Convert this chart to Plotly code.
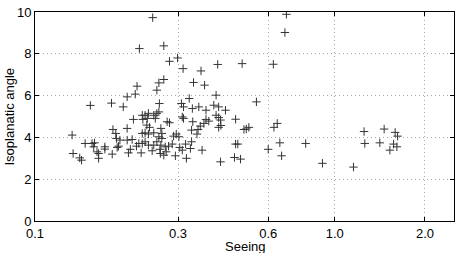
import plotly.graph_objects as go

# Seeing (x) values
seeing = [
    0.153, 0.180, 0.197, 0.203, 0.216, 0.219, 0.223,
    0.133, 0.134, 0.141, 0.143, 0.147, 0.155, 0.157, 0.158, 0.161, 0.163, 0.163,
    0.171, 0.171, 0.181, 0.182, 0.186, 0.187, 0.190, 0.188, 0.192, 0.203, 0.203,
    0.205, 0.208, 0.211, 0.213, 0.218, 0.222,
    0.247, 0.269, 0.281, 0.299, 0.312, 0.269, 0.259, 0.255, 0.260, 0.308, 0.313,
    0.228, 0.233, 0.239, 0.249, 0.255, 0.229, 0.237, 0.252, 0.259, 0.236, 0.241,
    0.276, 0.281, 0.310, 0.313, 0.228, 0.233, 0.239, 0.249, 0.263, 0.265, 0.259,
    0.290, 0.296, 0.302, 0.228, 0.233, 0.239, 0.249, 0.255, 0.263, 0.265, 0.272,
    0.279, 0.287, 0.304, 0.226, 0.246, 0.261, 0.262, 0.269, 0.274, 0.294, 0.320,
    0.310, 0.318,
    0.407, 0.358, 0.338, 0.368, 0.327, 0.402, 0.335, 0.352, 0.372, 0.395, 0.410,
    0.432, 0.336, 0.372, 0.380, 0.402, 0.410, 0.416, 0.356, 0.366, 0.333, 0.350,
    0.347, 0.410, 0.417, 0.333, 0.330, 0.361, 0.416,
    0.491, 0.624, 0.548, 0.467, 0.498, 0.507, 0.517, 0.627, 0.643, 0.467, 0.475,
    0.463, 0.485, 0.600, 0.656, 0.665,
    0.690, 0.682, 0.800, 0.910, 1.155, 1.253, 1.260, 1.414, 1.462, 1.528, 1.572,
    1.591, 1.612, 1.621,
]

# Isoplanatic angle (y) values
iso_angle = [
    5.53, 5.64, 5.46, 5.94, 6.07, 6.45, 8.25,
    4.11, 3.23, 3.02, 2.91, 3.71, 3.71, 3.55, 3.74, 3.31, 3.23, 3.00,
    3.55, 3.44, 3.20, 4.38, 4.19, 3.95, 3.58, 3.52, 3.87, 4.43, 3.87,
    3.26, 3.43, 3.90, 4.86, 3.58, 3.71,
    9.73, 8.38, 7.64, 7.80, 7.29, 6.77, 6.61, 6.26, 5.62, 5.62, 5.46,
    5.06, 5.06, 5.15, 5.06, 5.15, 4.86, 4.91, 4.91, 5.22, 4.59, 4.48,
    4.75, 4.70, 4.98, 4.91, 4.19, 4.22, 4.16, 4.22, 4.43, 4.19, 4.03,
    4.06, 4.16, 4.03, 3.71, 3.79, 3.63, 3.63, 3.79, 3.63, 3.95, 3.55,
    3.58, 3.68, 3.52, 3.26, 3.36, 3.43, 3.23, 3.15, 3.31, 3.12, 3.00,
    3.39, 3.68,
    7.49, 7.18, 6.63, 6.50, 5.86, 6.02, 5.38, 5.46, 5.30, 5.54, 5.46,
    5.30, 4.75, 4.86, 4.78, 5.06, 4.95, 4.83, 4.54, 4.67, 4.35, 4.38,
    4.16, 4.48, 4.57, 3.79, 3.47, 3.39, 2.83,
    7.53, 7.50, 5.70, 4.87, 4.38, 4.40, 4.48, 4.48, 4.67, 3.68, 3.68,
    3.04, 2.96, 3.43, 3.74, 3.12,
    9.89, 9.02, 3.71, 2.76, 2.58, 4.28, 3.71, 3.74, 4.40, 3.39, 3.68,
    4.24, 3.55, 4.06,
]

x_ticks = [0.1, 0.3, 0.6, 1.0, 2.0]
x_ticklabels = ["0.1", "0.3", "0.6", "1.0", "2.0"]
y_ticks = [0, 2, 4, 6, 8, 10]

fig = go.Figure()
fig.add_trace(go.Scatter(
    x=seeing, y=iso_angle, mode="markers",
    marker=dict(symbol="cross-thin", size=6,
                line=dict(width=1, color="#333333")),
    showlegend=False,
))

font = dict(family="Liberation Sans, Arial, sans-serif", size=13, color="black")
fig.update_layout(
    width=458, height=253,
    margin=dict(l=35, r=4, t=12, b=32),
    paper_bgcolor="white", plot_bgcolor="white",
    font=font,
    annotations=[
        dict(text="Seeing", xref="paper", yref="paper", x=0.5, y=0,
             yshift=-25, xanchor="center", yanchor="middle",
             showarrow=False, font=font),
        dict(text="Isoplanatic angle", xref="paper", yref="paper", x=0, y=0.5,
             xshift=-26, textangle=-90, xanchor="center", yanchor="middle",
             showarrow=False, font=font),
    ],
)
fig.update_xaxes(
    type="log", range=[-1, 0.398], automargin=False,
    tickvals=x_ticks, ticktext=x_ticklabels,
    showgrid=True, gridcolor="#a8a8a8", griddash="1px,3px", gridwidth=1,
    ticks="inside", ticklen=4, tickcolor="black",
    showline=True, linecolor="black", linewidth=1, mirror="ticks",
    zeroline=False,
)
fig.update_yaxes(
    range=[0, 10], tickvals=y_ticks, automargin=False,
    showgrid=True, gridcolor="#a8a8a8", griddash="1px,3px", gridwidth=1,
    ticks="inside", ticklen=4, tickcolor="black",
    showline=True, linecolor="black", linewidth=1, mirror="ticks",
    zeroline=False,
)

fig.write_html(
    "out.html",
    config={"displayModeBar": False},
    post_script="document.body.style.margin='0';document.body.style.padding='0';",
)
